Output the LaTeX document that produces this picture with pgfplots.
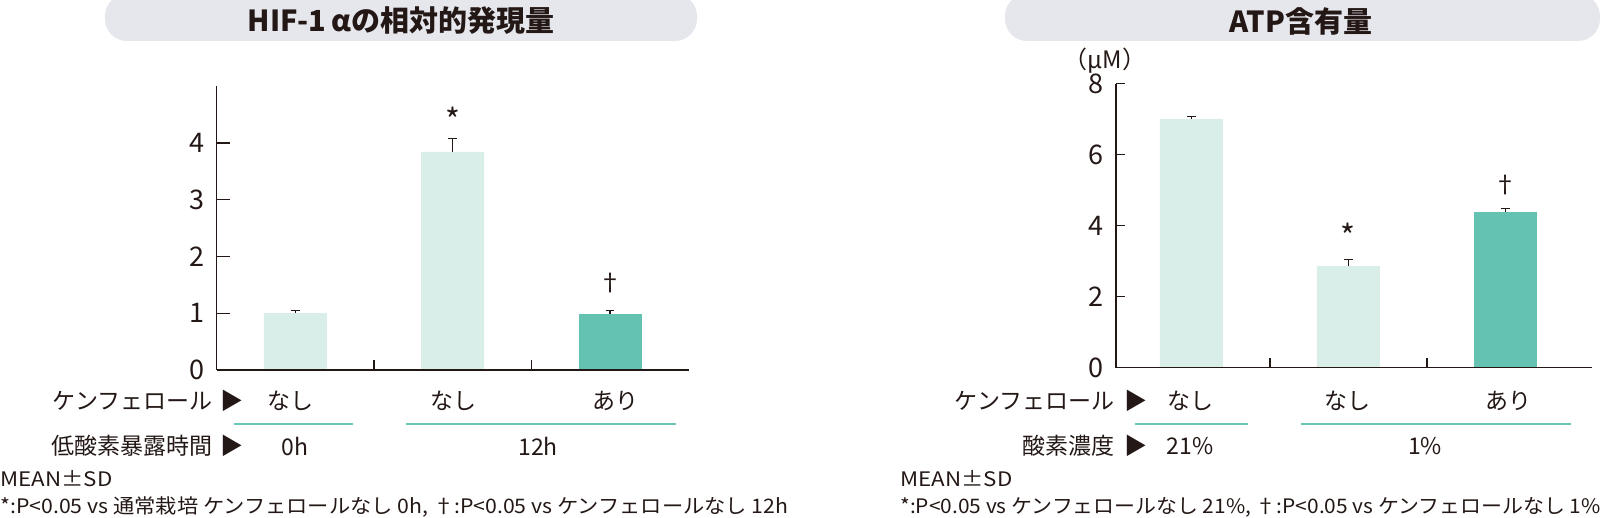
\documentclass[border=0pt]{standalone}
\usepackage{pgfplots}
\pgfplotsset{compat=1.18}
\usepackage{fontspec}
\usepackage{graphicx}
\setmainfont{Noto Sans CJK JP}
\definecolor{ink}{HTML}{231815}
\definecolor{barlight}{HTML}{D9EEE8}
\definecolor{bardark}{HTML}{64C2B3}
\definecolor{pill}{HTML}{E6E7EC}
\definecolor{tealline}{HTML}{6CC6B8}

\pgfplotstableread{
x y e
0 1.00 0.05
1 3.84 0.24
}\hifa
\pgfplotstableread{
x y e
2 0.99 0.06
}\hifb
\pgfplotstableread{
x y e
0 7.00 0.07
1 2.86 0.19
}\atpa
\pgfplotstableread{
x y e
2 4.39 0.10
}\atpb

\pgfplotsset{
  mybars/.style={ybar, bar width=31.5pt, bar shift=0pt, draw=none,
    error bars/y dir=plus, error bars/y explicit,
    error bars/error mark=-,
    error bars/error bar style={line width=0.7pt, ink},
    error bars/error mark options={rotate=90, line width=0.7pt, ink, mark size=2.2pt}},
  myaxis/.style={scale only axis, clip=false, axis on top,
    axis x line=bottom, axis y line=left,
    axis line style={-, ink, line width=0.7pt},
    tick style={ink, line width=0.7pt},
    tick align=inside,
    xtick={0.5,1.5}, xticklabels={},
    xtick style={/pgfplots/major tick length=5pt},
    yticklabel style={font=\fontsize{13.5}{14}\selectfont, text=ink, xshift=-2.5pt},
    /pgf/number format/assume math mode=true}
}

\begin{document}
\begin{tikzpicture}[x=0.5pt,y=-0.5pt, lbl/.style={text=ink, inner sep=0pt}]
\path[use as bounding box] (0,0) rectangle (1600,518);
\coordinate (LA) at (216.7,370);
\coordinate (RA) at (1116,367.7);
% title pills
\fill[pill, rounded corners=11pt] (105,-6) rectangle (697,41);
\fill[pill, rounded corners=11pt] (1005,-6) rectangle (1600,41);
\node[lbl, font=\fontsize{14.5}{16}\selectfont\bfseries] at (401,21) {HIF-1\,\textit{α}の相対的発現量};
\node[lbl, font=\fontsize{14.5}{16}\selectfont\bfseries] at (1301,21) {ATP含有量};

% left axis
\begin{axis}[myaxis, at={(LA)}, anchor=south west,
  width=236pt, height=142pt, xmin=-0.5, xmax=2.5, ymin=0, ymax=5,
  ytick={0,1,2,3,4}, ytick style={/pgfplots/major tick length=6.5pt}]
\addplot[fill=barlight, mybars] table[x=x, y=y, y error=e] {\hifa};
\addplot[fill=bardark, mybars] table[x=x, y=y, y error=e] {\hifb};
\node[text=ink, font=\fontsize{16}{16}\selectfont] at (axis cs:1,4.4) {*};
\node[text=ink, font=\fontsize{12}{12}\selectfont] at (axis cs:2,1.53) {†};
\end{axis}

% right axis
\begin{axis}[myaxis, at={(RA)}, anchor=south west,
  width=237.9pt, height=142pt, xmin=-0.48, xmax=2.55, ymin=0, ymax=8,
  ytick={0,2,4,6,8}, ytick style={/pgfplots/major tick length=4.5pt}]
\addplot[fill=barlight, mybars] table[x=x, y=y, y error=e] {\atpa};
\addplot[fill=bardark, mybars] table[x=x, y=y, y error=e] {\atpb};
\node[text=ink, font=\fontsize{16}{16}\selectfont] at (axis cs:1,3.72) {*};
\node[text=ink, font=\fontsize{12}{12}\selectfont] at (axis cs:2,5.15) {†};
\end{axis}
\node[lbl, font=\fontsize{12}{13}\selectfont] at (1105,61) {（\textit{μ}M）};

% left category rows
\begin{scope}[every node/.append style={lbl, font=\fontsize{11.5}{12}\selectfont}]
\node[anchor=east] at (213,401) {ケンフェロール};
\node at (232,401) {▶};
\node at (290,401) {なし};
\node at (453,401) {なし};
\node at (615,401) {あり};
\node[anchor=east] at (213,446) {低酸素暴露時間};
\node at (232,446) {▶};
\node at (295,446) {0h};
\node at (538,446) {12h};
% right
\node[anchor=east] at (1115,401) {ケンフェロール};
\node at (1136,401) {▶};
\node at (1190,401) {なし};
\node at (1347,401) {なし};
\node at (1508,401) {あり};
\node[anchor=east] at (1115,446) {酸素濃度};
\node at (1136,446) {▶};
\node at (1190,446) {21\%};
\node at (1425,446) {1\%};
\end{scope}
\draw[tealline, line width=1pt] (234,424) -- (353,424);
\draw[tealline, line width=1pt] (406,424) -- (676,424);
\draw[tealline, line width=1pt] (1135,424) -- (1248,424);
\draw[tealline, line width=1pt] (1301,424) -- (1571,424);

% footnotes
\begin{scope}[every node/.append style={lbl, font=\fontsize{10}{11}\selectfont, anchor=west}]
\node at (0,479) {\resizebox{56pt}{\height}{MEAN±SD}};
\node at (0,507) {\resizebox{394pt}{\height}{*:P<0.05 vs 通常栽培 ケンフェロールなし 0h, †:P<0.05 vs ケンフェロールなし 12h}};
\node at (900,479) {\resizebox{56pt}{\height}{MEAN±SD}};
\node at (900,507) {\resizebox{350pt}{\height}{*:P<0.05 vs ケンフェロールなし 21\%, †:P<0.05 vs ケンフェロールなし 1\%}};
\end{scope}
\end{tikzpicture}
\end{document}
